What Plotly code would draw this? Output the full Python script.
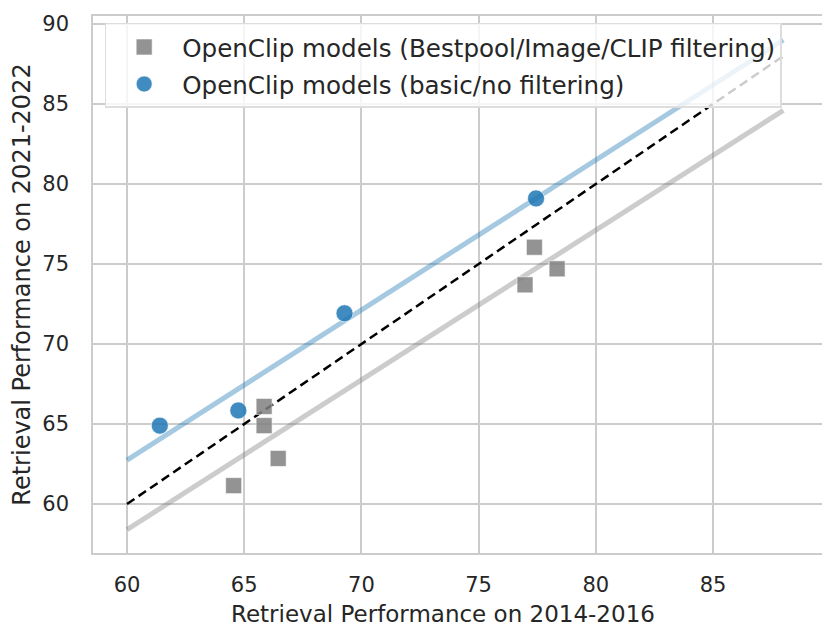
import plotly.graph_objects as go

# gray squares: Bestpool/Image/CLIP filtering
filt_x = [65.85, 65.85, 66.45, 64.55, 76.98, 77.38, 78.35]
filt_y = [66.1, 64.9, 62.85, 61.15, 73.7, 76.05, 74.7]

# blue circles: basic/no filtering
basic_x = [61.4, 64.75, 69.28, 77.45]
basic_y = [64.9, 65.85, 71.92, 79.1]

# fitted lines and y=x reference (endpoints)
line_x = [60, 88]
basic_fit = [62.75, 89.0]
filt_fit = [58.4, 84.6]
ident = [60, 88]

xticks = [60, 65, 70, 75, 80, 85]
yticks = [60, 65, 70, 75, 80, 85, 90]

fig = go.Figure()
fig.add_trace(go.Scatter(x=line_x, y=basic_fit, mode="lines", showlegend=False,
                         line=dict(color="rgba(31,119,180,0.4)", width=5)))
fig.add_trace(go.Scatter(x=line_x, y=filt_fit, mode="lines", showlegend=False,
                         line=dict(color="rgba(128,128,128,0.4)", width=5)))
fig.add_trace(go.Scatter(x=line_x, y=ident, mode="lines", showlegend=False,
                         line=dict(color="black", width=2.5, dash="9px,5px")))

fig.add_trace(go.Scatter(x=filt_x, y=filt_y, mode="markers", legendgroup="a",
                         name="OpenClip models (Bestpool/Image/CLIP filtering)",
                         marker=dict(symbol="square", size=16, color="rgba(128,128,128,0.85)",
                                     line=dict(color="rgba(255,255,255,0.6)", width=1))))
fig.add_trace(go.Scatter(x=basic_x, y=basic_y, mode="markers", legendgroup="b",
                         name="OpenClip models (basic/no filtering)",
                         marker=dict(symbol="circle", size=17, color="rgba(31,119,180,0.85)",
                                     line=dict(color="rgba(255,255,255,0.6)", width=1))))

axcol = "#cccccc"
# page body has an 8px margin, so the figure is sized to fit inside the window
fig.update_layout(
    width=822, height=633,
    margin=dict(l=85, r=8, t=8, b=88),
    paper_bgcolor="white", plot_bgcolor="white",
    font=dict(family="DejaVu Sans", size=21, color="#262626"),
    legend=dict(x=0.016, y=0.987, xanchor="left", yanchor="top",
                bgcolor="rgba(255,255,255,0.8)", bordercolor="#dddddd", borderwidth=1.5,
                font=dict(size=24.6), tracegroupgap=2, traceorder="grouped", itemwidth=66),
)
fig.add_annotation(text="Retrieval Performance on 2014-2016", xref="paper", yref="paper",
                   x=0.48, y=0, yshift=-61, xanchor="center", yanchor="middle",
                   showarrow=False, font=dict(size=23))
fig.update_xaxes(range=[58.55, 89.65], tickvals=xticks, showgrid=True, gridcolor=axcol, gridwidth=1.5,
                 showline=True, linecolor=axcol, linewidth=1.5, mirror=True, zeroline=False,
                 ticks="", ticklabelstandoff=12, automargin=False,
                 tickfont=dict(size=21))
fig.update_yaxes(range=[56.94, 90.5], tickvals=yticks, showgrid=True, gridcolor=axcol, gridwidth=1.5,
                 showline=True, linecolor=axcol, linewidth=1.5, mirror=True, zeroline=False,
                 ticks="", ticklabelstandoff=18, automargin=False,
                 tickfont=dict(size=21),
                 title=dict(text="Retrieval Performance on 2021-2022", font=dict(size=24), standoff=6))

fig.write_html("out.html")
